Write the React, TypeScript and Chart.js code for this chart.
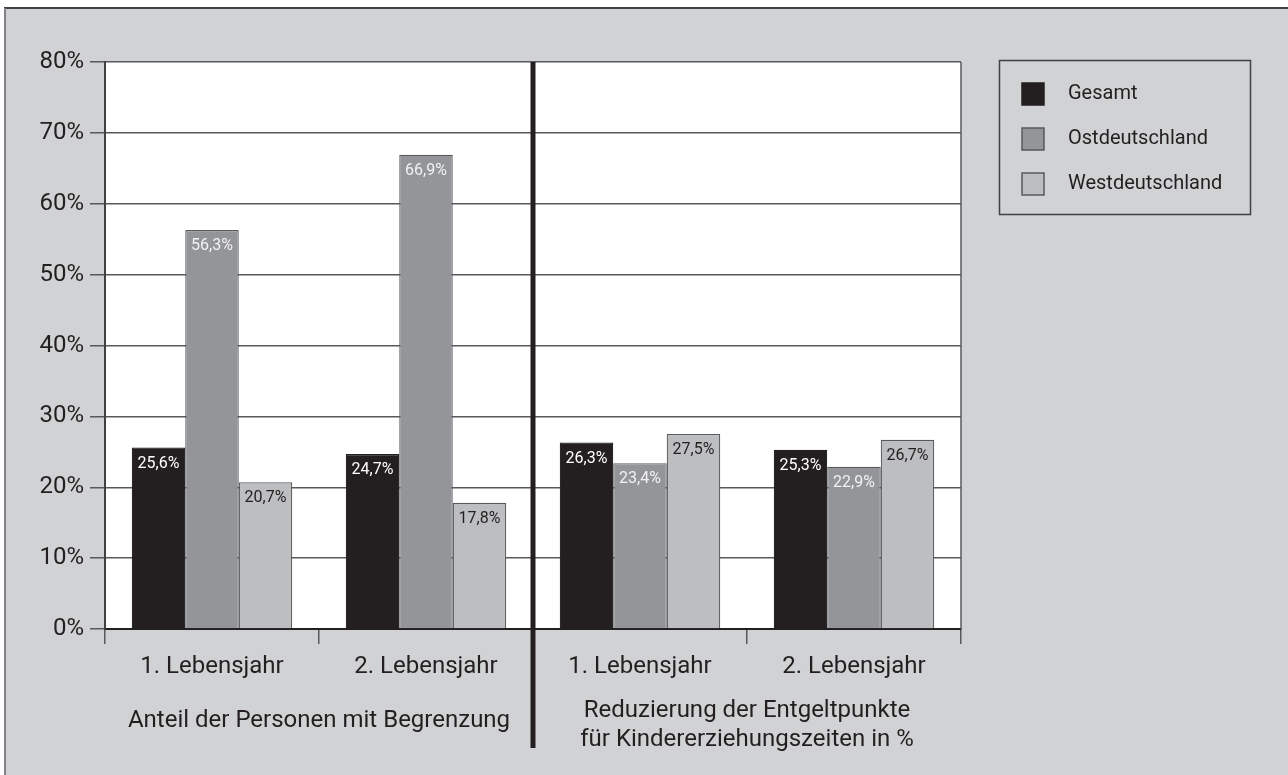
import React, { useEffect, useRef } from "react";
import { Chart, registerables } from "chart.js";

Chart.register(...registerables);

const categories = ["1. Lebensjahr", "2. Lebensjahr", "1. Lebensjahr", "2. Lebensjahr"];
const seriesNames = ["Gesamt", "Ostdeutschland", "Westdeutschland"];
const gesamt = [25.6, 24.7, 26.3, 25.3];
const ost = [56.3, 66.9, 23.4, 22.9];
const west = [20.7, 17.8, 27.5, 26.7];
const groupLabelLeft = ["Anteil der Personen mit Begrenzung"];
const groupLabelRight = ["Reduzierung der Entgeltpunkte", "für Kindererziehungszeiten in %"];
const yMax = 80;
const yStep = 10;

const FONT = "Roboto, 'DejaVu Sans', sans-serif";
const TEXT = "#231f20";
const fills = ["#231f20", "#939598", "#bcbec0"];
const borders = ["#231f20", "#58595b", "#58595b"];
const labelColors = ["#ffffff", "#f2f2f2", "#231f20"];

const fmt = (v: number) => v.toFixed(1).replace(".", ",") + "%";

const customPlugin = {
  id: "custom",
  beforeDraw(chart: any) {
    const ctx = chart.ctx;
    const { left, top, right, bottom } = chart.chartArea;
    ctx.save();
    ctx.fillStyle = "#ffffff";
    ctx.fillRect(0, 0, chart.width, chart.height);
    ctx.fillStyle = "#d1d2d4";
    ctx.fillRect(5, 8, chart.width - 5, chart.height - 8);
    ctx.strokeStyle = "#414042";
    ctx.lineWidth = 2;
    ctx.beginPath();
    ctx.moveTo(4, 8);
    ctx.lineTo(chart.width, 8);
    ctx.stroke();
    ctx.strokeStyle = "#808285";
    ctx.beginPath();
    ctx.moveTo(5, 8);
    ctx.lineTo(5, chart.height);
    ctx.stroke();
    ctx.fillStyle = "#ffffff";
    ctx.fillRect(left, top, right - left, bottom - top);
    ctx.restore();
  },
  afterDatasetsDraw(chart: any) {
    const ctx = chart.ctx;
    ctx.save();
    ctx.font = `16px ${FONT}`;
    ctx.textAlign = "center";
    ctx.textBaseline = "middle";
    chart.data.datasets.forEach((ds: any, di: number) => {
      const meta = chart.getDatasetMeta(di);
      meta.data.forEach((bar: any, i: number) => {
        ctx.fillStyle = labelColors[di];
        ctx.fillText(fmt(ds.data[i]), bar.x, bar.y + 16);
      });
    });
    ctx.restore();
  },
  afterDraw(chart: any) {
    const ctx = chart.ctx;
    const { left, top, right, bottom } = chart.chartArea;
    const x = chart.scales.x;
    ctx.save();
    // right border of plot
    ctx.strokeStyle = "#58595b";
    ctx.lineWidth = 1.5;
    ctx.beginPath();
    ctx.moveTo(right, top);
    ctx.lineTo(right, bottom);
    ctx.stroke();
    // divider
    const midX = (x.getPixelForValue(1) + x.getPixelForValue(2)) / 2;
    ctx.strokeStyle = "#231f20";
    ctx.lineWidth = 5;
    ctx.beginPath();
    ctx.moveTo(midX, top);
    ctx.lineTo(midX, 748);
    ctx.stroke();
    // group labels
    ctx.fillStyle = TEXT;
    ctx.font = `24px ${FONT}`;
    ctx.textAlign = "center";
    ctx.textBaseline = "middle";
    const lx = (x.getPixelForValue(0) + x.getPixelForValue(1)) / 2;
    groupLabelLeft.forEach((t, i) => ctx.fillText(t, lx, 721 + i * 29));
    const rx = (x.getPixelForValue(2) + x.getPixelForValue(3)) / 2;
    groupLabelRight.forEach((t, i) => ctx.fillText(t, rx, 711 + i * 29));
    // legend
    ctx.font = `20px ${FONT}`;
    ctx.strokeStyle = "#414042";
    ctx.lineWidth = 1.5;
    ctx.strokeRect(999.5, 60.5, 251, 154);
    ctx.textAlign = "left";
    seriesNames.forEach((n, i) => {
      const cy = 94 + i * 45;
      ctx.fillStyle = fills[i];
      ctx.fillRect(1022, cy - 11, 22, 22);
      ctx.strokeStyle = borders[i];
      ctx.lineWidth = 1.5;
      ctx.strokeRect(1022, cy - 11, 22, 22);
      ctx.fillStyle = TEXT;
      ctx.fillText(n, 1068, cy);
    });
    ctx.restore();
  },
};

export default function App() {
  const ref = useRef<HTMLCanvasElement>(null);
  useEffect(() => {
    if (!ref.current) return;
    const datasets = [gesamt, ost, west].map((d, i) => ({
      label: seriesNames[i],
      data: d,
      backgroundColor: fills[i],
      borderColor: borders[i],
      borderWidth: 1.2,
      categoryPercentage: 0.75,
      barPercentage: 1.0,
    }));
    const chart = new Chart(ref.current, {
      type: "bar",
      data: { labels: categories, datasets },
      options: {
        responsive: false,
        animation: false,
        devicePixelRatio: 1,
        layout: { padding: { left: 0, top: 62, right: 327, bottom: 0 } },
        plugins: { legend: { display: false }, tooltip: { enabled: false } },
        scales: {
          x: {
            offset: true,
            grid: {
              display: true,
              drawOnChartArea: false,
              drawTicks: true,
              tickLength: 15,
              color: "#58595b",
              lineWidth: 1.5,
              offset: true,
            },
            border: { display: true, color: "#231f20", width: 2 },
            ticks: { color: TEXT, font: { family: FONT, size: 24 }, padding: 9, maxRotation: 0, autoSkip: false },
            afterFit: (s: any) => { s.height = 146; },
          },
          y: {
            min: 0,
            max: yMax,
            ticks: {
              stepSize: yStep,
              color: TEXT,
              font: { family: FONT, size: 24 },
              padding: 6,
              callback: (v: any) => v + "%",
            },
            grid: { color: "#58595b", lineWidth: 1.5, tickLength: 15 },
            border: { display: true, color: "#414042", width: 2 },
            afterFit: (s: any) => { s.width = 105; },
          },
        },
      },
      plugins: [customPlugin],
    });
    return () => chart.destroy();
  }, []);
  return (
    <div style={{ position: "fixed", left: 0, top: 0, width: 1288, height: 775 }}>
      <canvas ref={ref} width={1288} height={775} style={{ width: 1288, height: 775, display: "block" }} />
    </div>
  );
}
